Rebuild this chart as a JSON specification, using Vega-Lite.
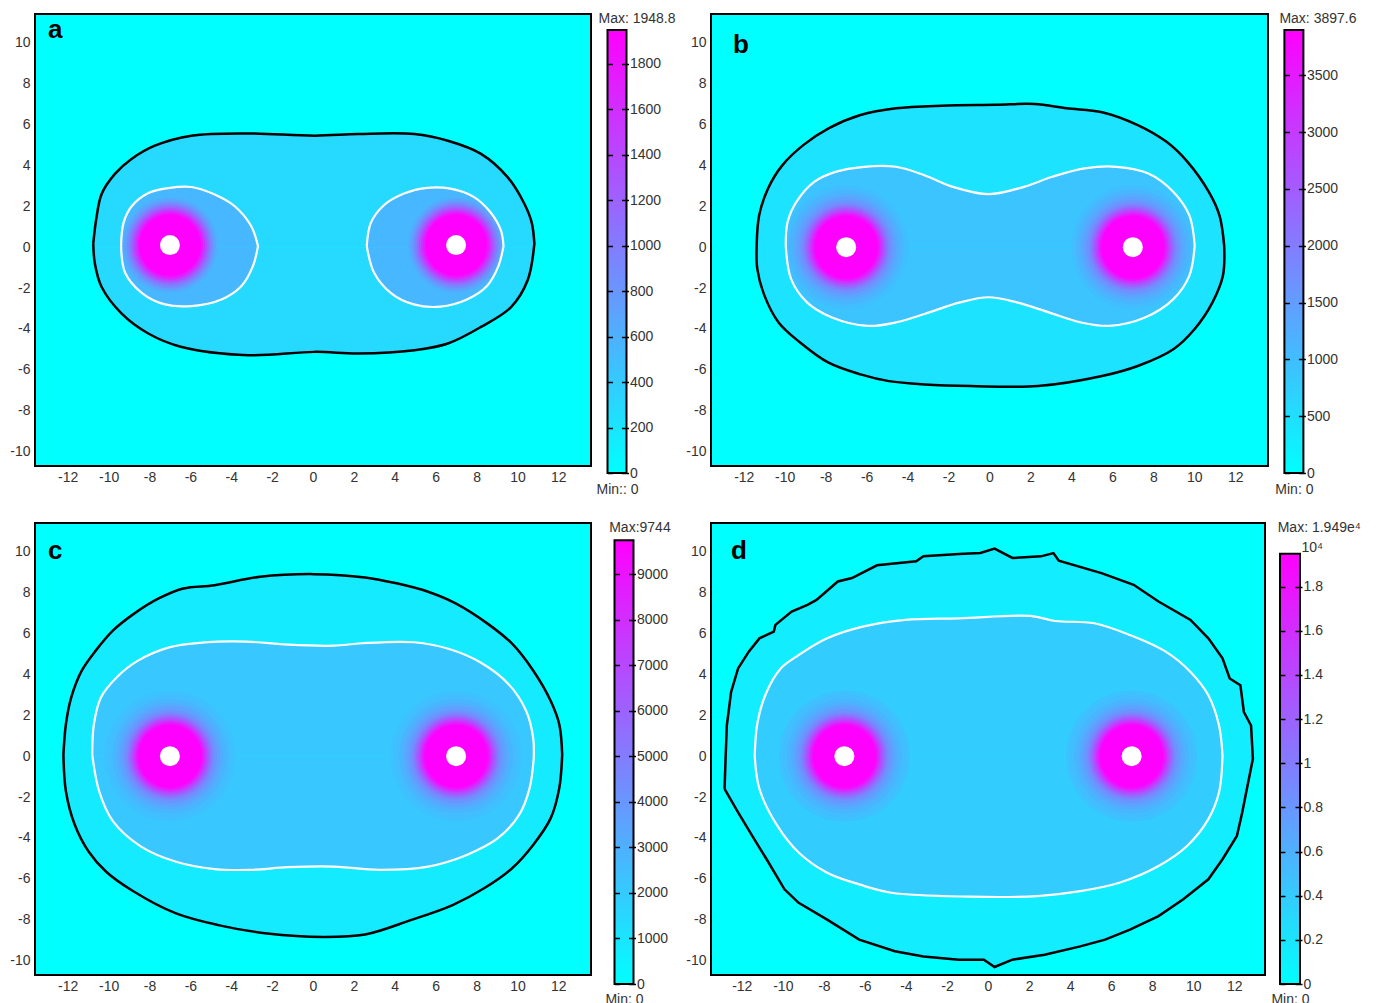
{
"$schema":"https://vega.github.io/schema/vega-lite/v6.json",
"padding":{"left":8,"top":12,"right":5,"bottom":0},
"background":"white",
"config":{"font":"Liberation Sans","axis":{"labelFont":"Liberation Sans","labelFontSize":14,"labelColor":"#333333","titleFont":"Liberation Sans","titleFontSize":14,"titleFontWeight":"normal","titleColor":"#333333","grid":false},"title":{"font":"Liberation Sans"}},
"datasets":{
"ct":[
{"p":"a","c":"k","id":"k","h":"t","o":0,"x":-10.75,"y":0.17},{"p":"a","c":"k","id":"k","h":"t","o":1,"x":-10.6,"y":1.4},{"p":"a","c":"k","id":"k","h":"t","o":2,"x":-10.34,"y":2.6},{"p":"a","c":"k","id":"k","h":"t","o":3,"x":-9.69,"y":3.58},{"p":"a","c":"k","id":"k","h":"t","o":4,"x":-8.88,"y":4.31},{"p":"a","c":"k","id":"k","h":"t","o":5,"x":-7.74,"y":4.96},{"p":"a","c":"k","id":"k","h":"t","o":6,"x":-5.95,"y":5.45},{"p":"a","c":"k","id":"k","h":"t","o":7,"x":-3.18,"y":5.56},{"p":"a","c":"k","id":"k","h":"t","o":8,"x":0.08,"y":5.45},{"p":"a","c":"k","id":"k","h":"t","o":9,"x":2.2,"y":5.53},{"p":"a","c":"k","id":"k","h":"t","o":10,"x":4.96,"y":5.53},{"p":"a","c":"k","id":"k","h":"t","o":11,"x":6.6,"y":5.2},{"p":"a","c":"k","id":"k","h":"t","o":12,"x":8.22,"y":4.56},{"p":"a","c":"k","id":"k","h":"t","o":13,"x":9.53,"y":3.41},{"p":"a","c":"k","id":"k","h":"t","o":14,"x":10.34,"y":2.12},{"p":"a","c":"k","id":"k","h":"t","o":15,"x":10.7,"y":1.2},{"p":"a","c":"k","id":"k","h":"t","o":16,"x":10.83,"y":0.17},
{"p":"a","c":"k","id":"k","h":"b","o":17,"x":10.83,"y":0.17},{"p":"a","c":"k","id":"k","h":"b","o":18,"x":10.5,"y":-1.62},{"p":"a","c":"k","id":"k","h":"b","o":19,"x":9.69,"y":-2.93},{"p":"a","c":"k","id":"k","h":"b","o":20,"x":8.22,"y":-3.9},{"p":"a","c":"k","id":"k","h":"b","o":21,"x":6.6,"y":-4.71},{"p":"a","c":"k","id":"k","h":"b","o":22,"x":4.96,"y":-5.04},{"p":"a","c":"k","id":"k","h":"b","o":23,"x":2.2,"y":-5.2},{"p":"a","c":"k","id":"k","h":"b","o":24,"x":0.08,"y":-5.12},{"p":"a","c":"k","id":"k","h":"b","o":25,"x":-3.18,"y":-5.28},{"p":"a","c":"k","id":"k","h":"b","o":26,"x":-6.43,"y":-4.88},{"p":"a","c":"k","id":"k","h":"b","o":27,"x":-8.06,"y":-4.22},{"p":"a","c":"k","id":"k","h":"b","o":28,"x":-9.36,"y":-3.25},{"p":"a","c":"k","id":"k","h":"b","o":29,"x":-10.34,"y":-1.95},{"p":"a","c":"k","id":"k","h":"b","o":30,"x":-10.67,"y":-0.81},{"p":"a","c":"k","id":"k","h":"b","o":31,"x":-10.75,"y":0.17},
{"p":"a","c":"w","id":"w1","h":"t","o":0,"x":-9.39,"y":0.05},{"p":"a","c":"w","id":"w1","h":"t","o":1,"x":-9.27,"y":1.19},{"p":"a","c":"w","id":"w1","h":"t","o":2,"x":-8.87,"y":2.0},{"p":"a","c":"w","id":"w1","h":"t","o":3,"x":-8.05,"y":2.65},{"p":"a","c":"w","id":"w1","h":"t","o":4,"x":-7.08,"y":2.89},{"p":"a","c":"w","id":"w1","h":"t","o":5,"x":-5.94,"y":2.94},{"p":"a","c":"w","id":"w1","h":"t","o":6,"x":-4.81,"y":2.57},{"p":"a","c":"w","id":"w1","h":"t","o":7,"x":-3.83,"y":2.0},{"p":"a","c":"w","id":"w1","h":"t","o":8,"x":-3.02,"y":1.02},{"p":"a","c":"w","id":"w1","h":"t","o":9,"x":-2.69,"y":0.05},
{"p":"a","c":"w","id":"w1","h":"b","o":10,"x":-2.69,"y":0.05},{"p":"a","c":"w","id":"w1","h":"b","o":11,"x":-2.94,"y":-0.93},{"p":"a","c":"w","id":"w1","h":"b","o":12,"x":-3.5,"y":-1.9},{"p":"a","c":"w","id":"w1","h":"b","o":13,"x":-4.48,"y":-2.56},{"p":"a","c":"w","id":"w1","h":"b","o":14,"x":-5.94,"y":-2.88},{"p":"a","c":"w","id":"w1","h":"b","o":15,"x":-7.24,"y":-2.8},{"p":"a","c":"w","id":"w1","h":"b","o":16,"x":-8.38,"y":-2.23},{"p":"a","c":"w","id":"w1","h":"b","o":17,"x":-9.19,"y":-1.25},{"p":"a","c":"w","id":"w1","h":"b","o":18,"x":-9.39,"y":0.05},
{"p":"a","c":"w","id":"w2","h":"t","o":0,"x":2.63,"y":0.05},{"p":"a","c":"w","id":"w2","h":"t","o":1,"x":2.83,"y":1.19},{"p":"a","c":"w","id":"w2","h":"t","o":2,"x":3.47,"y":2.05},{"p":"a","c":"w","id":"w2","h":"t","o":3,"x":4.45,"y":2.62},{"p":"a","c":"w","id":"w2","h":"t","o":4,"x":5.59,"y":2.9},{"p":"a","c":"w","id":"w2","h":"t","o":5,"x":6.72,"y":2.86},{"p":"a","c":"w","id":"w2","h":"t","o":6,"x":7.86,"y":2.46},{"p":"a","c":"w","id":"w2","h":"t","o":7,"x":8.67,"y":1.72},{"p":"a","c":"w","id":"w2","h":"t","o":8,"x":9.19,"y":0.83},{"p":"a","c":"w","id":"w2","h":"t","o":9,"x":9.32,"y":0.05},
{"p":"a","c":"w","id":"w2","h":"b","o":10,"x":9.32,"y":0.05},{"p":"a","c":"w","id":"w2","h":"b","o":11,"x":9.07,"y":-0.93},{"p":"a","c":"w","id":"w2","h":"b","o":12,"x":8.51,"y":-1.9},{"p":"a","c":"w","id":"w2","h":"b","o":13,"x":7.53,"y":-2.56},{"p":"a","c":"w","id":"w2","h":"b","o":14,"x":6.23,"y":-2.91},{"p":"a","c":"w","id":"w2","h":"b","o":15,"x":4.93,"y":-2.8},{"p":"a","c":"w","id":"w2","h":"b","o":16,"x":3.8,"y":-2.23},{"p":"a","c":"w","id":"w2","h":"b","o":17,"x":2.99,"y":-1.25},{"p":"a","c":"w","id":"w2","h":"b","o":18,"x":2.63,"y":0.05},

{"p":"b","c":"k","id":"k","h":"t","o":0,"x":-11.37,"y":0.08},{"p":"b","c":"k","id":"k","h":"t","o":1,"x":-11.25,"y":1.55},{"p":"b","c":"k","id":"k","h":"t","o":2,"x":-10.82,"y":2.86},{"p":"b","c":"k","id":"k","h":"t","o":3,"x":-10.12,"y":4.0},{"p":"b","c":"k","id":"k","h":"t","o":4,"x":-9.08,"y":5.0},{"p":"b","c":"k","id":"k","h":"t","o":5,"x":-7.86,"y":5.81},{"p":"b","c":"k","id":"k","h":"t","o":6,"x":-6.3,"y":6.46},{"p":"b","c":"k","id":"k","h":"t","o":7,"x":-4.57,"y":6.79},{"p":"b","c":"k","id":"k","h":"t","o":8,"x":-2.31,"y":6.92},{"p":"b","c":"k","id":"k","h":"t","o":9,"x":0.3,"y":6.96},{"p":"b","c":"k","id":"k","h":"t","o":10,"x":2.2,"y":7.0},{"p":"b","c":"k","id":"k","h":"t","o":11,"x":3.77,"y":6.79},{"p":"b","c":"k","id":"k","h":"t","o":12,"x":5.5,"y":6.6},{"p":"b","c":"k","id":"k","h":"t","o":13,"x":7.24,"y":5.97},{"p":"b","c":"k","id":"k","h":"t","o":14,"x":8.63,"y":5.16},{"p":"b","c":"k","id":"k","h":"t","o":15,"x":9.67,"y":4.17},{"p":"b","c":"k","id":"k","h":"t","o":16,"x":10.71,"y":2.7},{"p":"b","c":"k","id":"k","h":"t","o":17,"x":11.23,"y":1.55},{"p":"b","c":"k","id":"k","h":"t","o":18,"x":11.46,"y":0.08},
{"p":"b","c":"k","id":"k","h":"b","o":19,"x":11.46,"y":0.08},{"p":"b","c":"k","id":"k","h":"b","o":20,"x":11.4,"y":-1.39},{"p":"b","c":"k","id":"k","h":"b","o":21,"x":10.89,"y":-2.7},{"p":"b","c":"k","id":"k","h":"b","o":22,"x":10.02,"y":-4.0},{"p":"b","c":"k","id":"k","h":"b","o":23,"x":8.98,"y":-4.99},{"p":"b","c":"k","id":"k","h":"b","o":24,"x":7.24,"y":-5.81},{"p":"b","c":"k","id":"k","h":"b","o":25,"x":5.5,"y":-6.3},{"p":"b","c":"k","id":"k","h":"b","o":26,"x":2.38,"y":-6.79},{"p":"b","c":"k","id":"k","h":"b","o":27,"x":-0.92,"y":-6.79},{"p":"b","c":"k","id":"k","h":"b","o":28,"x":-3.18,"y":-6.71},{"p":"b","c":"k","id":"k","h":"b","o":29,"x":-4.91,"y":-6.55},{"p":"b","c":"k","id":"k","h":"b","o":30,"x":-6.3,"y":-6.22},{"p":"b","c":"k","id":"k","h":"b","o":31,"x":-7.86,"y":-5.65},{"p":"b","c":"k","id":"k","h":"b","o":32,"x":-9.25,"y":-4.66},{"p":"b","c":"k","id":"k","h":"b","o":33,"x":-10.3,"y":-3.68},{"p":"b","c":"k","id":"k","h":"b","o":34,"x":-10.99,"y":-2.37},{"p":"b","c":"k","id":"k","h":"b","o":35,"x":-11.34,"y":-1.06},{"p":"b","c":"k","id":"k","h":"b","o":36,"x":-11.37,"y":0.08},
{"p":"b","c":"w","id":"w","h":"t","o":0,"x":-9.95,"y":0.08},{"p":"b","c":"w","id":"w","h":"t","o":1,"x":-9.86,"y":1.23},{"p":"b","c":"w","id":"w","h":"t","o":2,"x":-9.43,"y":2.21},{"p":"b","c":"w","id":"w","h":"t","o":3,"x":-8.56,"y":3.19},{"p":"b","c":"w","id":"w","h":"t","o":4,"x":-7.52,"y":3.68},{"p":"b","c":"w","id":"w","h":"t","o":5,"x":-6.13,"y":3.93},{"p":"b","c":"w","id":"w","h":"t","o":6,"x":-4.57,"y":3.93},{"p":"b","c":"w","id":"w","h":"t","o":7,"x":-3.18,"y":3.52},{"p":"b","c":"w","id":"w","h":"t","o":8,"x":-1.79,"y":2.95},{"p":"b","c":"w","id":"w","h":"t","o":9,"x":-0.05,"y":2.59},{"p":"b","c":"w","id":"w","h":"t","o":10,"x":1.68,"y":2.95},{"p":"b","c":"w","id":"w","h":"t","o":11,"x":3.07,"y":3.44},{"p":"b","c":"w","id":"w","h":"t","o":12,"x":4.64,"y":3.85},{"p":"b","c":"w","id":"w","h":"t","o":13,"x":6.2,"y":3.93},{"p":"b","c":"w","id":"w","h":"t","o":14,"x":7.76,"y":3.6},{"p":"b","c":"w","id":"w","h":"t","o":15,"x":8.98,"y":2.7},{"p":"b","c":"w","id":"w","h":"t","o":16,"x":9.76,"y":1.55},{"p":"b","c":"w","id":"w","h":"t","o":17,"x":10.02,"y":0.08},
{"p":"b","c":"w","id":"w","h":"b","o":18,"x":10.02,"y":0.08},{"p":"b","c":"w","id":"w","h":"b","o":19,"x":9.76,"y":-1.39},{"p":"b","c":"w","id":"w","h":"b","o":20,"x":8.98,"y":-2.54},{"p":"b","c":"w","id":"w","h":"b","o":21,"x":7.59,"y":-3.44},{"p":"b","c":"w","id":"w","h":"b","o":22,"x":5.85,"y":-3.85},{"p":"b","c":"w","id":"w","h":"b","o":23,"x":4.46,"y":-3.68},{"p":"b","c":"w","id":"w","h":"b","o":24,"x":2.9,"y":-3.19},{"p":"b","c":"w","id":"w","h":"b","o":25,"x":1.34,"y":-2.7},{"p":"b","c":"w","id":"w","h":"b","o":26,"x":-0.05,"y":-2.45},{"p":"b","c":"w","id":"w","h":"b","o":27,"x":-1.44,"y":-2.7},{"p":"b","c":"w","id":"w","h":"b","o":28,"x":-3.18,"y":-3.27},{"p":"b","c":"w","id":"w","h":"b","o":29,"x":-4.57,"y":-3.68},{"p":"b","c":"w","id":"w","h":"b","o":30,"x":-5.96,"y":-3.85},{"p":"b","c":"w","id":"w","h":"b","o":31,"x":-7.69,"y":-3.44},{"p":"b","c":"w","id":"w","h":"b","o":32,"x":-8.91,"y":-2.7},{"p":"b","c":"w","id":"w","h":"b","o":33,"x":-9.69,"y":-1.55},{"p":"b","c":"w","id":"w","h":"b","o":34,"x":-9.95,"y":0.08},

{"p":"c","c":"k","id":"k","h":"t","o":0,"x":-12.21,"y":0.08},{"p":"c","c":"k","id":"k","h":"t","o":1,"x":-12.09,"y":1.55},{"p":"c","c":"k","id":"k","h":"t","o":2,"x":-11.83,"y":2.86},{"p":"c","c":"k","id":"k","h":"t","o":3,"x":-11.32,"y":4.17},{"p":"c","c":"k","id":"k","h":"t","o":4,"x":-10.63,"y":5.16},{"p":"c","c":"k","id":"k","h":"t","o":5,"x":-9.78,"y":6.15},{"p":"c","c":"k","id":"k","h":"t","o":6,"x":-8.75,"y":6.97},{"p":"c","c":"k","id":"k","h":"t","o":7,"x":-7.55,"y":7.71},{"p":"c","c":"k","id":"k","h":"t","o":8,"x":-6.35,"y":8.2},{"p":"c","c":"k","id":"k","h":"t","o":9,"x":-4.81,"y":8.36},{"p":"c","c":"k","id":"k","h":"t","o":10,"x":-2.59,"y":8.77},{"p":"c","c":"k","id":"k","h":"t","o":11,"x":0.07,"y":8.9},{"p":"c","c":"k","id":"k","h":"t","o":12,"x":2.55,"y":8.74},{"p":"c","c":"k","id":"k","h":"t","o":13,"x":4.09,"y":8.45},{"p":"c","c":"k","id":"k","h":"t","o":14,"x":5.63,"y":8.04},{"p":"c","c":"k","id":"k","h":"t","o":15,"x":7.0,"y":7.46},{"p":"c","c":"k","id":"k","h":"t","o":16,"x":8.54,"y":6.48},{"p":"c","c":"k","id":"k","h":"t","o":17,"x":9.74,"y":5.5},{"p":"c","c":"k","id":"k","h":"t","o":18,"x":10.77,"y":4.19},{"p":"c","c":"k","id":"k","h":"t","o":19,"x":11.63,"y":2.7},{"p":"c","c":"k","id":"k","h":"t","o":20,"x":12.05,"y":1.55},{"p":"c","c":"k","id":"k","h":"t","o":21,"x":12.19,"y":0.08},
{"p":"c","c":"k","id":"k","h":"b","o":22,"x":12.19,"y":0.08},{"p":"c","c":"k","id":"k","h":"b","o":23,"x":12.05,"y":-1.55},{"p":"c","c":"k","id":"k","h":"b","o":24,"x":11.63,"y":-3.03},{"p":"c","c":"k","id":"k","h":"b","o":25,"x":10.77,"y":-4.34},{"p":"c","c":"k","id":"k","h":"b","o":26,"x":9.74,"y":-5.48},{"p":"c","c":"k","id":"k","h":"b","o":27,"x":8.37,"y":-6.46},{"p":"c","c":"k","id":"k","h":"b","o":28,"x":6.83,"y":-7.28},{"p":"c","c":"k","id":"k","h":"b","o":29,"x":4.78,"y":-8.02},{"p":"c","c":"k","id":"k","h":"b","o":30,"x":2.55,"y":-8.72},{"p":"c","c":"k","id":"k","h":"b","o":31,"x":0.5,"y":-8.84},{"p":"c","c":"k","id":"k","h":"b","o":32,"x":-2.24,"y":-8.67},{"p":"c","c":"k","id":"k","h":"b","o":33,"x":-4.64,"y":-8.26},{"p":"c","c":"k","id":"k","h":"b","o":34,"x":-6.7,"y":-7.69},{"p":"c","c":"k","id":"k","h":"b","o":35,"x":-8.75,"y":-6.63},{"p":"c","c":"k","id":"k","h":"b","o":36,"x":-10.12,"y":-5.65},{"p":"c","c":"k","id":"k","h":"b","o":37,"x":-10.98,"y":-4.66},{"p":"c","c":"k","id":"k","h":"b","o":38,"x":-11.66,"y":-3.34},{"p":"c","c":"k","id":"k","h":"b","o":39,"x":-12.09,"y":-1.7},{"p":"c","c":"k","id":"k","h":"b","o":40,"x":-12.21,"y":0.08},
{"p":"c","c":"w","id":"w","h":"t","o":0,"x":-10.8,"y":0.08},{"p":"c","c":"w","id":"w","h":"t","o":1,"x":-10.72,"y":1.55},{"p":"c","c":"w","id":"w","h":"t","o":2,"x":-10.38,"y":2.86},{"p":"c","c":"w","id":"w","h":"t","o":3,"x":-9.61,"y":3.85},{"p":"c","c":"w","id":"w","h":"t","o":4,"x":-8.58,"y":4.66},{"p":"c","c":"w","id":"w","h":"t","o":5,"x":-7.04,"y":5.32},{"p":"c","c":"w","id":"w","h":"t","o":6,"x":-5.33,"y":5.56},{"p":"c","c":"w","id":"w","h":"t","o":7,"x":-3.27,"y":5.6},{"p":"c","c":"w","id":"w","h":"t","o":8,"x":-1.22,"y":5.45},{"p":"c","c":"w","id":"w","h":"t","o":9,"x":1.01,"y":5.4},{"p":"c","c":"w","id":"w","h":"t","o":10,"x":2.38,"y":5.52},{"p":"c","c":"w","id":"w","h":"t","o":11,"x":4.95,"y":5.57},{"p":"c","c":"w","id":"w","h":"t","o":12,"x":6.66,"y":5.24},{"p":"c","c":"w","id":"w","h":"t","o":13,"x":8.2,"y":4.58},{"p":"c","c":"w","id":"w","h":"t","o":14,"x":9.57,"y":3.52},{"p":"c","c":"w","id":"w","h":"t","o":15,"x":10.43,"y":2.21},{"p":"c","c":"w","id":"w","h":"t","o":16,"x":10.77,"y":0.9},{"p":"c","c":"w","id":"w","h":"t","o":17,"x":10.8,"y":-0.07},
{"p":"c","c":"w","id":"w","h":"b","o":18,"x":10.8,"y":-0.07},{"p":"c","c":"w","id":"w","h":"b","o":19,"x":10.6,"y":-1.55},{"p":"c","c":"w","id":"w","h":"b","o":20,"x":10.09,"y":-2.86},{"p":"c","c":"w","id":"w","h":"b","o":21,"x":9.06,"y":-4.0},{"p":"c","c":"w","id":"w","h":"b","o":22,"x":7.52,"y":-4.83},{"p":"c","c":"w","id":"w","h":"b","o":23,"x":5.63,"y":-5.4},{"p":"c","c":"w","id":"w","h":"b","o":24,"x":3.24,"y":-5.56},{"p":"c","c":"w","id":"w","h":"b","o":25,"x":1.01,"y":-5.4},{"p":"c","c":"w","id":"w","h":"b","o":26,"x":-1.22,"y":-5.43},{"p":"c","c":"w","id":"w","h":"b","o":27,"x":-3.1,"y":-5.56},{"p":"c","c":"w","id":"w","h":"b","o":28,"x":-4.81,"y":-5.52},{"p":"c","c":"w","id":"w","h":"b","o":29,"x":-6.7,"y":-5.16},{"p":"c","c":"w","id":"w","h":"b","o":30,"x":-8.41,"y":-4.42},{"p":"c","c":"w","id":"w","h":"b","o":31,"x":-9.78,"y":-3.19},{"p":"c","c":"w","id":"w","h":"b","o":32,"x":-10.46,"y":-1.72},{"p":"c","c":"w","id":"w","h":"b","o":33,"x":-10.8,"y":0.08},

{"p":"d","c":"k","id":"k","h":"t","o":0,"x":-12.84,"y":-1.6},{"p":"d","c":"k","id":"k","h":"t","o":1,"x":-12.79,"y":-0.13},{"p":"d","c":"k","id":"k","h":"t","o":2,"x":-12.73,"y":1.5},{"p":"d","c":"k","id":"k","h":"t","o":3,"x":-12.52,"y":3.14},{"p":"d","c":"k","id":"k","h":"t","o":4,"x":-12.18,"y":4.29},{"p":"d","c":"k","id":"k","h":"t","o":5,"x":-11.66,"y":5.11},{"p":"d","c":"k","id":"k","h":"t","o":6,"x":-11.14,"y":5.76},{"p":"d","c":"k","id":"k","h":"t","o":7,"x":-10.44,"y":6.09},{"p":"d","c":"k","id":"k","h":"t","o":8,"x":-10.36,"y":6.42},{"p":"d","c":"k","id":"k","h":"t","o":9,"x":-9.57,"y":7.07},{"p":"d","c":"k","id":"k","h":"t","o":10,"x":-8.8,"y":7.4},{"p":"d","c":"k","id":"k","h":"t","o":11,"x":-8.36,"y":7.64},{"p":"d","c":"k","id":"k","h":"t","o":12,"x":-7.32,"y":8.54},{"p":"d","c":"k","id":"k","h":"t","o":13,"x":-6.63,"y":8.71},{"p":"d","c":"k","id":"k","h":"t","o":14,"x":-5.41,"y":9.33},{"p":"d","c":"k","id":"k","h":"t","o":15,"x":-3.5,"y":9.53},{"p":"d","c":"k","id":"k","h":"t","o":16,"x":-3.15,"y":9.77},{"p":"d","c":"k","id":"k","h":"t","o":17,"x":-1.42,"y":9.89},{"p":"d","c":"k","id":"k","h":"t","o":18,"x":-0.37,"y":9.93},{"p":"d","c":"k","id":"k","h":"t","o":19,"x":0.32,"y":10.15},{"p":"d","c":"k","id":"k","h":"t","o":20,"x":1.19,"y":9.69},{"p":"d","c":"k","id":"k","h":"t","o":21,"x":2.58,"y":9.77},{"p":"d","c":"k","id":"k","h":"t","o":22,"x":3.19,"y":9.93},{"p":"d","c":"k","id":"k","h":"t","o":23,"x":3.45,"y":9.56},{"p":"d","c":"k","id":"k","h":"t","o":24,"x":5.53,"y":8.95},{"p":"d","c":"k","id":"k","h":"t","o":25,"x":7.1,"y":8.38},{"p":"d","c":"k","id":"k","h":"t","o":26,"x":8.31,"y":7.56},{"p":"d","c":"k","id":"k","h":"t","o":27,"x":9.87,"y":6.66},{"p":"d","c":"k","id":"k","h":"t","o":28,"x":10.74,"y":5.76},{"p":"d","c":"k","id":"k","h":"t","o":29,"x":11.43,"y":4.78},{"p":"d","c":"k","id":"k","h":"t","o":30,"x":11.78,"y":3.8},{"p":"d","c":"k","id":"k","h":"t","o":31,"x":12.3,"y":3.47},{"p":"d","c":"k","id":"k","h":"t","o":32,"x":12.47,"y":2.16},{"p":"d","c":"k","id":"k","h":"t","o":33,"x":12.82,"y":1.5},{"p":"d","c":"k","id":"k","h":"t","o":34,"x":12.91,"y":-0.13},
{"p":"d","c":"k","id":"k","h":"b","o":35,"x":12.91,"y":-0.13},{"p":"d","c":"k","id":"k","h":"b","o":36,"x":12.65,"y":-1.44},{"p":"d","c":"k","id":"k","h":"b","o":37,"x":12.39,"y":-2.75},{"p":"d","c":"k","id":"k","h":"b","o":38,"x":12.13,"y":-3.9},{"p":"d","c":"k","id":"k","h":"b","o":39,"x":11.43,"y":-5.04},{"p":"d","c":"k","id":"k","h":"b","o":40,"x":10.74,"y":-6.02},{"p":"d","c":"k","id":"k","h":"b","o":41,"x":9.52,"y":-7.0},{"p":"d","c":"k","id":"k","h":"b","o":42,"x":8.31,"y":-7.82},{"p":"d","c":"k","id":"k","h":"b","o":43,"x":6.92,"y":-8.48},{"p":"d","c":"k","id":"k","h":"b","o":44,"x":5.71,"y":-8.97},{"p":"d","c":"k","id":"k","h":"b","o":45,"x":4.5,"y":-9.3},{"p":"d","c":"k","id":"k","h":"b","o":46,"x":2.76,"y":-9.71},{"p":"d","c":"k","id":"k","h":"b","o":47,"x":1.19,"y":-9.95},{"p":"d","c":"k","id":"k","h":"b","o":48,"x":0.32,"y":-10.31},{"p":"d","c":"k","id":"k","h":"b","o":49,"x":-0.2,"y":-9.95},{"p":"d","c":"k","id":"k","h":"b","o":50,"x":-1.42,"y":-9.95},{"p":"d","c":"k","id":"k","h":"b","o":51,"x":-3.15,"y":-9.79},{"p":"d","c":"k","id":"k","h":"b","o":52,"x":-4.54,"y":-9.54},{"p":"d","c":"k","id":"k","h":"b","o":53,"x":-6.28,"y":-8.97},{"p":"d","c":"k","id":"k","h":"b","o":54,"x":-7.84,"y":-7.99},{"p":"d","c":"k","id":"k","h":"b","o":55,"x":-9.23,"y":-7.17},{"p":"d","c":"k","id":"k","h":"b","o":56,"x":-9.92,"y":-6.51},{"p":"d","c":"k","id":"k","h":"b","o":57,"x":-10.79,"y":-5.04},{"p":"d","c":"k","id":"k","h":"b","o":58,"x":-11.49,"y":-3.9},{"p":"d","c":"k","id":"k","h":"b","o":59,"x":-12.18,"y":-2.75},{"p":"d","c":"k","id":"k","h":"b","o":60,"x":-12.84,"y":-1.6},
{"p":"d","c":"w","id":"w","h":"t","o":0,"x":-11.37,"y":0.03},{"p":"d","c":"w","id":"w","h":"t","o":1,"x":-11.23,"y":1.67},{"p":"d","c":"w","id":"w","h":"t","o":2,"x":-10.79,"y":3.14},{"p":"d","c":"w","id":"w","h":"t","o":3,"x":-10.1,"y":4.29},{"p":"d","c":"w","id":"w","h":"t","o":4,"x":-9.23,"y":4.94},{"p":"d","c":"w","id":"w","h":"t","o":5,"x":-7.84,"y":5.76},{"p":"d","c":"w","id":"w","h":"t","o":6,"x":-6.11,"y":6.33},{"p":"d","c":"w","id":"w","h":"t","o":7,"x":-4.02,"y":6.66},{"p":"d","c":"w","id":"w","h":"t","o":8,"x":-1.42,"y":6.74},{"p":"d","c":"w","id":"w","h":"t","o":9,"x":2.06,"y":6.86},{"p":"d","c":"w","id":"w","h":"t","o":10,"x":3.28,"y":6.61},{"p":"d","c":"w","id":"w","h":"t","o":11,"x":5.18,"y":6.5},{"p":"d","c":"w","id":"w","h":"t","o":12,"x":6.92,"y":5.92},{"p":"d","c":"w","id":"w","h":"t","o":13,"x":8.66,"y":5.11},{"p":"d","c":"w","id":"w","h":"t","o":14,"x":9.87,"y":4.12},{"p":"d","c":"w","id":"w","h":"t","o":15,"x":10.74,"y":2.98},{"p":"d","c":"w","id":"w","h":"t","o":16,"x":11.26,"y":1.5},{"p":"d","c":"w","id":"w","h":"t","o":17,"x":11.43,"y":0.03},
{"p":"d","c":"w","id":"w","h":"b","o":18,"x":11.43,"y":0.03},{"p":"d","c":"w","id":"w","h":"b","o":19,"x":11.26,"y":-1.77},{"p":"d","c":"w","id":"w","h":"b","o":20,"x":10.74,"y":-3.08},{"p":"d","c":"w","id":"w","h":"b","o":21,"x":9.7,"y":-4.39},{"p":"d","c":"w","id":"w","h":"b","o":22,"x":8.31,"y":-5.37},{"p":"d","c":"w","id":"w","h":"b","o":23,"x":6.4,"y":-6.19},{"p":"d","c":"w","id":"w","h":"b","o":24,"x":4.5,"y":-6.6},{"p":"d","c":"w","id":"w","h":"b","o":25,"x":2.41,"y":-6.84},{"p":"d","c":"w","id":"w","h":"b","o":26,"x":-0.89,"y":-6.87},{"p":"d","c":"w","id":"w","h":"b","o":27,"x":-4.71,"y":-6.68},{"p":"d","c":"w","id":"w","h":"b","o":28,"x":-6.28,"y":-6.27},{"p":"d","c":"w","id":"w","h":"b","o":29,"x":-7.84,"y":-5.7},{"p":"d","c":"w","id":"w","h":"b","o":30,"x":-9.23,"y":-4.71},{"p":"d","c":"w","id":"w","h":"b","o":31,"x":-10.27,"y":-3.4},{"p":"d","c":"w","id":"w","h":"b","o":32,"x":-11.14,"y":-1.6},{"p":"d","c":"w","id":"w","h":"b","o":33,"x":-11.37,"y":0.03}
],
"glow":[
{"p":"a","y":0.1,"xs":[-7,7],"r":2.35,"v":604},{"p":"a","y":0.1,"xs":[-7,7],"r":2.25,"v":721},{"p":"a","y":0.1,"xs":[-7,7],"r":2.12,"v":857},{"p":"a","y":0.1,"xs":[-7,7],"r":2.02,"v":994},{"p":"a","y":0.1,"xs":[-7,7],"r":1.92,"v":1169},{"p":"a","y":0.1,"xs":[-7,7],"r":1.82,"v":1364},{"p":"a","y":0.1,"xs":[-7,7],"r":1.72,"v":1559},{"p":"a","y":0.1,"xs":[-7,7],"r":1.62,"v":1754},{"p":"a","y":0.1,"xs":[-7,7],"r":1.52,"v":1948.8},
{"p":"b","y":0,"xs":[-7,7],"r":3.0,"v":1013},{"p":"b","y":0,"xs":[-7,7],"r":2.8,"v":1130},{"p":"b","y":0,"xs":[-7,7],"r":2.6,"v":1286},{"p":"b","y":0,"xs":[-7,7],"r":2.45,"v":1442},{"p":"b","y":0,"xs":[-7,7],"r":2.3,"v":1637},{"p":"b","y":0,"xs":[-7,7],"r":2.15,"v":1871},{"p":"b","y":0,"xs":[-7,7],"r":2.05,"v":2144},{"p":"b","y":0,"xs":[-7,7],"r":1.95,"v":2455},{"p":"b","y":0,"xs":[-7,7],"r":1.85,"v":2806},{"p":"b","y":0,"xs":[-7,7],"r":1.75,"v":3196},{"p":"b","y":0,"xs":[-7,7],"r":1.65,"v":3586},{"p":"b","y":0,"xs":[-7,7],"r":1.55,"v":3897.6},
{"p":"c","y":0,"xs":[-7,7],"r":3.2,"v":2339},{"p":"c","y":0,"xs":[-7,7],"r":3.0,"v":2533},{"p":"c","y":0,"xs":[-7,7],"r":2.8,"v":2826},{"p":"c","y":0,"xs":[-7,7],"r":2.6,"v":3216},{"p":"c","y":0,"xs":[-7,7],"r":2.45,"v":3605},{"p":"c","y":0,"xs":[-7,7],"r":2.3,"v":4092},{"p":"c","y":0,"xs":[-7,7],"r":2.15,"v":4677},{"p":"c","y":0,"xs":[-7,7],"r":2.05,"v":5359},{"p":"c","y":0,"xs":[-7,7],"r":1.95,"v":6139},{"p":"c","y":0,"xs":[-7,7],"r":1.85,"v":7016},{"p":"c","y":0,"xs":[-7,7],"r":1.75,"v":7990},{"p":"c","y":0,"xs":[-7,7],"r":1.65,"v":8964},{"p":"c","y":0,"xs":[-7,7],"r":1.55,"v":9744},
{"p":"d","y":0,"xs":[-7,7],"r":3.2,"v":4678},{"p":"d","y":0,"xs":[-7,7],"r":3.0,"v":5067},{"p":"d","y":0,"xs":[-7,7],"r":2.8,"v":5652},{"p":"d","y":0,"xs":[-7,7],"r":2.6,"v":6432},{"p":"d","y":0,"xs":[-7,7],"r":2.45,"v":7211},{"p":"d","y":0,"xs":[-7,7],"r":2.3,"v":8186},{"p":"d","y":0,"xs":[-7,7],"r":2.15,"v":9355},{"p":"d","y":0,"xs":[-7,7],"r":2.05,"v":10720},{"p":"d","y":0,"xs":[-7,7],"r":1.95,"v":12279},{"p":"d","y":0,"xs":[-7,7],"r":1.85,"v":14033},{"p":"d","y":0,"xs":[-7,7],"r":1.75,"v":15982},{"p":"d","y":0,"xs":[-7,7],"r":1.65,"v":17931},{"p":"d","y":0,"xs":[-7,7],"r":1.55,"v":19490}
],
"src":[{"p":"a","x":-7,"y":0.1},{"p":"a","x":7,"y":0.1},{"p":"b","x":-7,"y":0},{"p":"b","x":7,"y":0},{"p":"c","x":-7,"y":0},{"p":"c","x":7,"y":0},{"p":"d","x":-7,"y":0},{"p":"d","x":7,"y":0}]
},
"spacing":24,
"resolve":{"scale":{"fill":"independent","size":"independent"}},
"vconcat":[
{"spacing":8,"resolve":{"scale":{"fill":"independent","size":"independent"}},"hconcat":[
{"spacing":3.5,"resolve":{"scale":{"fill":"independent","size":"independent"}},"hconcat":[
{"width":556,"height":452,"view":{"fill":"#00ffff","stroke":"#000000","strokeWidth":2},
"encoding":{"x":{"field":"x","type":"quantitative","scale":{"domain":[-13.6,13.6],"nice":false,"zero":false},"axis":{"values":[-12,-10,-8,-6,-4,-2,0,2,4,6,8,10,12],"labelExpr":"datum.value<0?'-'+(-datum.value):''+datum.value","ticks":false,"domain":false,"labelPadding":4,"labelFlush":false,"title":null}},
"y":{"field":"y","type":"quantitative","stack":null,"scale":{"domain":[-10.7,11.4],"nice":false,"zero":false},"axis":{"values":[-10,-8,-6,-4,-2,0,2,4,6,8,10],"labelExpr":"datum.value<0?'-'+(-datum.value):''+datum.value","ticks":false,"domain":false,"labelPadding":5,"labelFlush":false,"title":null}}},
"layer":[
{"data":{"name":"ct"},"transform":[{"filter":"datum.p=='a'&&datum.c=='k'"}],"mark":{"type":"area","interpolate":"catmull-rom","opacity":1},"encoding":{"y2":{"datum":0},"detail":[{"field":"id"},{"field":"h"}],"fill":{"datum":292,"type":"quantitative","scale":{"domain":[0,1948.8],"range":["#00ffff","#ff00ff"],"interpolate":"rgb"},"legend":null}}},
{"data":{"name":"ct"},"transform":[{"filter":"datum.p=='a'&&datum.c=='w'"}],"mark":{"type":"area","interpolate":"catmull-rom","opacity":1},"encoding":{"y2":{"datum":0},"detail":[{"field":"id"},{"field":"h"}],"fill":{"datum":546,"type":"quantitative","legend":null}}},
{"data":{"name":"glow"},"transform":[{"filter":"datum.p=='a'"},{"flatten":["xs"],"as":["x"]}],"mark":{"type":"circle","opacity":1,"strokeWidth":0},"encoding":{"fill":{"field":"v","type":"quantitative","legend":null},"size":{"field":"r","type":"quantitative","scale":{"type":"pow","exponent":2,"domain":[0,3],"range":[0,15041]},"legend":null},"order":{"field":"r","sort":"descending"}}},
{"data":{"name":"ct"},"transform":[{"filter":"datum.p=='a'&&datum.c=='k'"}],"mark":{"type":"line","interpolate":"catmull-rom","stroke":"#000000","strokeWidth":2.5},"encoding":{"detail":{"field":"id"},"order":{"field":"o"}}},
{"data":{"name":"ct"},"transform":[{"filter":"datum.p=='a'&&datum.c=='w'"}],"mark":{"type":"line","interpolate":"catmull-rom","stroke":"#ffffff","strokeWidth":2.2},"encoding":{"detail":{"field":"id"},"order":{"field":"o"}}},
{"data":{"name":"src"},"transform":[{"filter":"datum.p=='a'"}],"mark":{"type":"circle","fill":"#ffffff","opacity":1,"size":400,"strokeWidth":0}},
{"data":{"values":[{"x":-12.96,"y":10.23}]},"mark":{"type":"text","text":"a","align":"left","baseline":"alphabetic","fontSize":26,"fontWeight":"bold","fill":"#000000"}}
]},
{"width":19,"height":459,"view":{"stroke":null,"fill":null},
"data":{"values":[{"k":"a","lo":0,"hi":1948.8}]},
"encoding":{"x":{"field":"k","type":"nominal","scale":{"paddingInner":0,"paddingOuter":0},"axis":{"title":"Min:: 0","labels":false,"ticks":false,"domain":false,"titlePadding":9}}},
"layer":[
{"mark":{"type":"rect","fill":{"gradient":"linear","x1":0,"y1":1,"x2":0,"y2":0,"stops":[{"offset":0,"color":"#00ffff"},{"offset":1,"color":"#ff00ff"}]},"stroke":"#000000","strokeWidth":2},
"encoding":{"y":{"field":"lo","type":"quantitative","scale":{"domain":[0,2019.2],"nice":false,"zero":false},"axis":{"orient":"left","values":[0,200,400,600,800,1000,1200,1400,1600,1800],"labels":false,"domain":false,"tickSize":5,"offset":-5,"tickColor":"#000000","tickWidth":1.5,"zindex":1,"title":null}},"y2":{"field":"hi"}}},
{"mark":{"type":"rect","opacity":0},
"encoding":{"y":{"field":"lo","type":"quantitative","axis":{"orient":"right","values":[0,200,400,600,800,1000,1200,1400,1600,1800],"format":"d","domain":false,"tickSize":7,"offset":-5,"labelPadding":1,"tickColor":"#000000","tickWidth":1.5,"zindex":1,"title":null}},"y2":{"field":"hi"}}},
{"mark":{"type":"text","text":"Max: 1948.8","align":"left","baseline":"alphabetic","dx":-18.5,"dy":-7,"fontSize":14,"fill":"#333333"},
"encoding":{"y":{"field":"hi","type":"quantitative","axis":null}}}
],
"resolve":{"axis":{"y":"independent"}}}
]},
{"spacing":5.4,"resolve":{"scale":{"fill":"independent","size":"independent"}},"hconcat":[
{"width":557,"height":452,"view":{"fill":"#00ffff","stroke":"#000000","strokeWidth":2},
"encoding":{"x":{"field":"x","type":"quantitative","scale":{"domain":[-13.6,13.6],"nice":false,"zero":false},"axis":{"values":[-12,-10,-8,-6,-4,-2,0,2,4,6,8,10,12],"labelExpr":"datum.value<0?'-'+(-datum.value):''+datum.value","ticks":false,"domain":false,"labelPadding":4,"labelFlush":false,"title":null}},
"y":{"field":"y","type":"quantitative","stack":null,"scale":{"domain":[-10.7,11.4],"nice":false,"zero":false},"axis":{"values":[-10,-8,-6,-4,-2,0,2,4,6,8,10],"labelExpr":"datum.value<0?'-'+(-datum.value):''+datum.value","ticks":false,"domain":false,"labelPadding":5,"labelFlush":false,"title":null}}},
"layer":[
{"data":{"name":"ct"},"transform":[{"filter":"datum.p=='b'&&datum.c=='k'"}],"mark":{"type":"area","interpolate":"catmull-rom","opacity":1},"encoding":{"y2":{"datum":0},"detail":[{"field":"id"},{"field":"h"}],"fill":{"datum":429,"type":"quantitative","scale":{"domain":[0,3897.6],"range":["#00ffff","#ff00ff"],"interpolate":"rgb"},"legend":null}}},
{"data":{"name":"ct"},"transform":[{"filter":"datum.p=='b'&&datum.c=='w'"}],"mark":{"type":"area","interpolate":"catmull-rom","opacity":1},"encoding":{"y2":{"datum":0},"detail":[{"field":"id"},{"field":"h"}],"fill":{"datum":896,"type":"quantitative","legend":null}}},
{"data":{"name":"glow"},"transform":[{"filter":"datum.p=='b'"},{"flatten":["xs"],"as":["x"]}],"mark":{"type":"circle","opacity":1,"strokeWidth":0},"encoding":{"fill":{"field":"v","type":"quantitative","legend":null},"size":{"field":"r","type":"quantitative","scale":{"type":"pow","exponent":2,"domain":[0,3],"range":[0,15041]},"legend":null},"order":{"field":"r","sort":"descending"}}},
{"data":{"name":"ct"},"transform":[{"filter":"datum.p=='b'&&datum.c=='k'"}],"mark":{"type":"line","interpolate":"catmull-rom","stroke":"#000000","strokeWidth":2.5},"encoding":{"detail":{"field":"id"},"order":{"field":"o"}}},
{"data":{"name":"ct"},"transform":[{"filter":"datum.p=='b'&&datum.c=='w'"}],"mark":{"type":"line","interpolate":"catmull-rom","stroke":"#ffffff","strokeWidth":2.2},"encoding":{"detail":{"field":"id"},"order":{"field":"o"}}},
{"data":{"name":"src"},"transform":[{"filter":"datum.p=='b'"}],"mark":{"type":"circle","fill":"#ffffff","opacity":1,"size":400,"strokeWidth":0}},
{"data":{"values":[{"x":-12.52,"y":9.49}]},"mark":{"type":"text","text":"b","align":"left","baseline":"alphabetic","fontSize":26,"fontWeight":"bold","fill":"#000000"}}
]},
{"width":19,"height":459,"view":{"stroke":null,"fill":null},
"data":{"values":[{"k":"b","lo":0,"hi":3897.6}]},
"encoding":{"x":{"field":"k","type":"nominal","scale":{"paddingInner":0,"paddingOuter":0},"axis":{"title":"Min: 0","labels":false,"ticks":false,"domain":false,"titlePadding":9}}},
"layer":[
{"mark":{"type":"rect","fill":{"gradient":"linear","x1":0,"y1":1,"x2":0,"y2":0,"stops":[{"offset":0,"color":"#00ffff"},{"offset":1,"color":"#ff00ff"}]},"stroke":"#000000","strokeWidth":2},
"encoding":{"y":{"field":"lo","type":"quantitative","scale":{"domain":[0,4038.4],"nice":false,"zero":false},"axis":{"orient":"left","values":[0,500,1000,1500,2000,2500,3000,3500],"labels":false,"domain":false,"tickSize":5,"offset":-5,"tickColor":"#000000","tickWidth":1.5,"zindex":1,"title":null}},"y2":{"field":"hi"}}},
{"mark":{"type":"rect","opacity":0},
"encoding":{"y":{"field":"lo","type":"quantitative","axis":{"orient":"right","values":[0,500,1000,1500,2000,2500,3000,3500],"format":"d","domain":false,"tickSize":7,"offset":-5,"labelPadding":1,"tickColor":"#000000","tickWidth":1.5,"zindex":1,"title":null}},"y2":{"field":"hi"}}},
{"mark":{"type":"text","text":"Max: 3897.6","align":"left","baseline":"alphabetic","dx":-14.5,"dy":-7,"fontSize":14,"fill":"#333333"},
"encoding":{"y":{"field":"hi","type":"quantitative","axis":null}}}
],
"resolve":{"axis":{"y":"independent"}}}
]}
]},
{"spacing":13,"resolve":{"scale":{"fill":"independent","size":"independent"}},"hconcat":[
{"spacing":12.5,"resolve":{"scale":{"fill":"independent","size":"independent"}},"hconcat":[
{"width":556,"height":452,"view":{"fill":"#00ffff","stroke":"#000000","strokeWidth":2},
"encoding":{"x":{"field":"x","type":"quantitative","scale":{"domain":[-13.6,13.6],"nice":false,"zero":false},"axis":{"values":[-12,-10,-8,-6,-4,-2,0,2,4,6,8,10,12],"labelExpr":"datum.value<0?'-'+(-datum.value):''+datum.value","ticks":false,"domain":false,"labelPadding":4,"labelFlush":false,"title":null}},
"y":{"field":"y","type":"quantitative","stack":null,"scale":{"domain":[-10.7,11.4],"nice":false,"zero":false},"axis":{"values":[-10,-8,-6,-4,-2,0,2,4,6,8,10],"labelExpr":"datum.value<0?'-'+(-datum.value):''+datum.value","ticks":false,"domain":false,"labelPadding":5,"labelFlush":false,"title":null}}},
"layer":[
{"data":{"name":"ct"},"transform":[{"filter":"datum.p=='c'&&datum.c=='k'"}],"mark":{"type":"area","interpolate":"catmull-rom","opacity":1},"encoding":{"y2":{"datum":0},"detail":[{"field":"id"},{"field":"h"}],"fill":{"datum":780,"type":"quantitative","scale":{"domain":[0,9744],"range":["#00ffff","#ff00ff"],"interpolate":"rgb"},"legend":null}}},
{"data":{"name":"ct"},"transform":[{"filter":"datum.p=='c'&&datum.c=='w'"}],"mark":{"type":"area","interpolate":"catmull-rom","opacity":1},"encoding":{"y2":{"datum":0},"detail":[{"field":"id"},{"field":"h"}],"fill":{"datum":2144,"type":"quantitative","legend":null}}},
{"data":{"name":"glow"},"transform":[{"filter":"datum.p=='c'"},{"flatten":["xs"],"as":["x"]}],"mark":{"type":"circle","opacity":1,"strokeWidth":0},"encoding":{"fill":{"field":"v","type":"quantitative","legend":null},"size":{"field":"r","type":"quantitative","scale":{"type":"pow","exponent":2,"domain":[0,3],"range":[0,15041]},"legend":null},"order":{"field":"r","sort":"descending"}}},
{"data":{"name":"ct"},"transform":[{"filter":"datum.p=='c'&&datum.c=='k'"}],"mark":{"type":"line","interpolate":"catmull-rom","stroke":"#000000","strokeWidth":2.5},"encoding":{"detail":{"field":"id"},"order":{"field":"o"}}},
{"data":{"name":"ct"},"transform":[{"filter":"datum.p=='c'&&datum.c=='w'"}],"mark":{"type":"line","interpolate":"catmull-rom","stroke":"#ffffff","strokeWidth":2.2},"encoding":{"detail":{"field":"id"},"order":{"field":"o"}}},
{"data":{"name":"src"},"transform":[{"filter":"datum.p=='c'"}],"mark":{"type":"circle","fill":"#ffffff","opacity":1,"size":400,"strokeWidth":0}},
{"data":{"values":[{"x":-12.96,"y":9.64}]},"mark":{"type":"text","text":"c","align":"left","baseline":"alphabetic","fontSize":26,"fontWeight":"bold","fill":"#000000"}}
]},
{"width":19,"height":461,"view":{"stroke":null,"fill":null},
"data":{"values":[{"k":"c","lo":0,"hi":9744}]},
"encoding":{"x":{"field":"k","type":"nominal","scale":{"paddingInner":0,"paddingOuter":0},"axis":{"title":"Min: 0","labels":false,"ticks":false,"domain":false,"titlePadding":8}}},
"layer":[
{"mark":{"type":"rect","fill":{"gradient":"linear","x1":0,"y1":1,"x2":0,"y2":0,"stops":[{"offset":0,"color":"#00ffff"},{"offset":1,"color":"#ff00ff"}]},"stroke":"#000000","strokeWidth":2},
"encoding":{"y":{"field":"lo","type":"quantitative","scale":{"domain":[0,10124],"nice":false,"zero":false},"axis":{"orient":"left","values":[0,1000,2000,3000,4000,5000,6000,7000,8000,9000],"labels":false,"domain":false,"tickSize":5,"offset":-5,"tickColor":"#000000","tickWidth":1.5,"zindex":1,"title":null}},"y2":{"field":"hi"}}},
{"mark":{"type":"rect","opacity":0},
"encoding":{"y":{"field":"lo","type":"quantitative","axis":{"orient":"right","values":[0,1000,2000,3000,4000,5000,6000,7000,8000,9000],"format":"d","domain":false,"tickSize":7,"offset":-5,"labelPadding":1,"tickColor":"#000000","tickWidth":1.5,"zindex":1,"title":null}},"y2":{"field":"hi"}}},
{"mark":{"type":"text","text":"Max:9744","align":"left","baseline":"alphabetic","dx":-14.8,"dy":-8,"fontSize":14,"fill":"#333333"},
"encoding":{"y":{"field":"hi","type":"quantitative","axis":null}}}
],
"resolve":{"axis":{"y":"independent"}}}
]},
{"spacing":4,"resolve":{"scale":{"fill":"independent","size":"independent"}},"hconcat":[
{"width":554,"height":452,"view":{"fill":"#00ffff","stroke":"#000000","strokeWidth":2},
"encoding":{"x":{"field":"x","type":"quantitative","scale":{"domain":[-13.5,13.5],"nice":false,"zero":false},"axis":{"values":[-12,-10,-8,-6,-4,-2,0,2,4,6,8,10,12],"labelExpr":"datum.value<0?'-'+(-datum.value):''+datum.value","ticks":false,"domain":false,"labelPadding":4,"labelFlush":false,"title":null}},
"y":{"field":"y","type":"quantitative","stack":null,"scale":{"domain":[-10.7,11.4],"nice":false,"zero":false},"axis":{"values":[-10,-8,-6,-4,-2,0,2,4,6,8,10],"labelExpr":"datum.value<0?'-'+(-datum.value):''+datum.value","ticks":false,"domain":false,"labelPadding":5,"labelFlush":false,"title":null}}},
"layer":[
{"data":{"name":"ct"},"transform":[{"filter":"datum.p=='d'&&datum.c=='k'"}],"mark":{"type":"area","interpolate":"linear","opacity":1},"encoding":{"y2":{"datum":0},"detail":[{"field":"id"},{"field":"h"}],"fill":{"datum":1364,"type":"quantitative","scale":{"domain":[0,19490],"range":["#00ffff","#ff00ff"],"interpolate":"rgb"},"legend":null}}},
{"data":{"name":"ct"},"transform":[{"filter":"datum.p=='d'&&datum.c=='w'"}],"mark":{"type":"area","interpolate":"catmull-rom","opacity":1},"encoding":{"y2":{"datum":0},"detail":[{"field":"id"},{"field":"h"}],"fill":{"datum":3898,"type":"quantitative","legend":null}}},
{"data":{"name":"glow"},"transform":[{"filter":"datum.p=='d'"},{"flatten":["xs"],"as":["x"]}],"mark":{"type":"circle","opacity":1,"strokeWidth":0},"encoding":{"fill":{"field":"v","type":"quantitative","legend":null},"size":{"field":"r","type":"quantitative","scale":{"type":"pow","exponent":2,"domain":[0,3],"range":[0,15041]},"legend":null},"order":{"field":"r","sort":"descending"}}},
{"data":{"name":"ct"},"transform":[{"filter":"datum.p=='d'&&datum.c=='k'"}],"mark":{"type":"line","interpolate":"linear","stroke":"#000000","strokeWidth":2.5},"encoding":{"detail":{"field":"id"},"order":{"field":"o"}}},
{"data":{"name":"ct"},"transform":[{"filter":"datum.p=='d'&&datum.c=='w'"}],"mark":{"type":"line","interpolate":"catmull-rom","stroke":"#ffffff","strokeWidth":2.2},"encoding":{"detail":{"field":"id"},"order":{"field":"o"}}},
{"data":{"name":"src"},"transform":[{"filter":"datum.p=='d'"}],"mark":{"type":"circle","fill":"#ffffff","opacity":1,"size":400,"strokeWidth":0}},
{"data":{"values":[{"x":-12.53,"y":9.64}]},"mark":{"type":"text","text":"d","align":"left","baseline":"alphabetic","fontSize":26,"fontWeight":"bold","fill":"#000000"}}
]},
{"width":20,"height":461,"view":{"stroke":null,"fill":null},
"data":{"values":[{"k":"d","lo":0,"hi":1.949}]},
"encoding":{"x":{"field":"k","type":"nominal","scale":{"paddingInner":0,"paddingOuter":0},"axis":{"title":"Min: 0","labels":false,"ticks":false,"domain":false,"titlePadding":8}}},
"layer":[
{"mark":{"type":"rect","fill":{"gradient":"linear","x1":0,"y1":1,"x2":0,"y2":0,"stops":[{"offset":0,"color":"#00ffff"},{"offset":1,"color":"#ff00ff"}]},"stroke":"#000000","strokeWidth":2},
"encoding":{"y":{"field":"lo","type":"quantitative","scale":{"domain":[0,2.0881],"nice":false,"zero":false},"axis":{"orient":"left","values":[0,0.2,0.4,0.6,0.8,1,1.2,1.4,1.6,1.8],"labels":false,"domain":false,"tickSize":5,"offset":-5,"tickColor":"#000000","tickWidth":1.5,"zindex":1,"title":null}},"y2":{"field":"hi"}}},
{"mark":{"type":"rect","opacity":0},
"encoding":{"y":{"field":"lo","type":"quantitative","axis":{"orient":"right","values":[0,0.2,0.4,0.6,0.8,1,1.2,1.4,1.6,1.8],"format":"~g","domain":false,"tickSize":7,"offset":-5,"labelPadding":1,"tickColor":"#000000","tickWidth":1.5,"zindex":1,"title":"10⁴","titleAngle":0,"titleAlign":"left","titleBaseline":"alphabetic","titleX":6,"titleY":28.7}},"y2":{"field":"hi"}}},
{"mark":{"type":"text","text":"Max: 1.949e⁴","align":"left","baseline":"alphabetic","dx":-12.3,"dy":-22,"fontSize":14,"fill":"#333333"},
"encoding":{"y":{"field":"hi","type":"quantitative","axis":null}}}
],
"resolve":{"axis":{"y":"independent"}}}
]}
]}
]
}
